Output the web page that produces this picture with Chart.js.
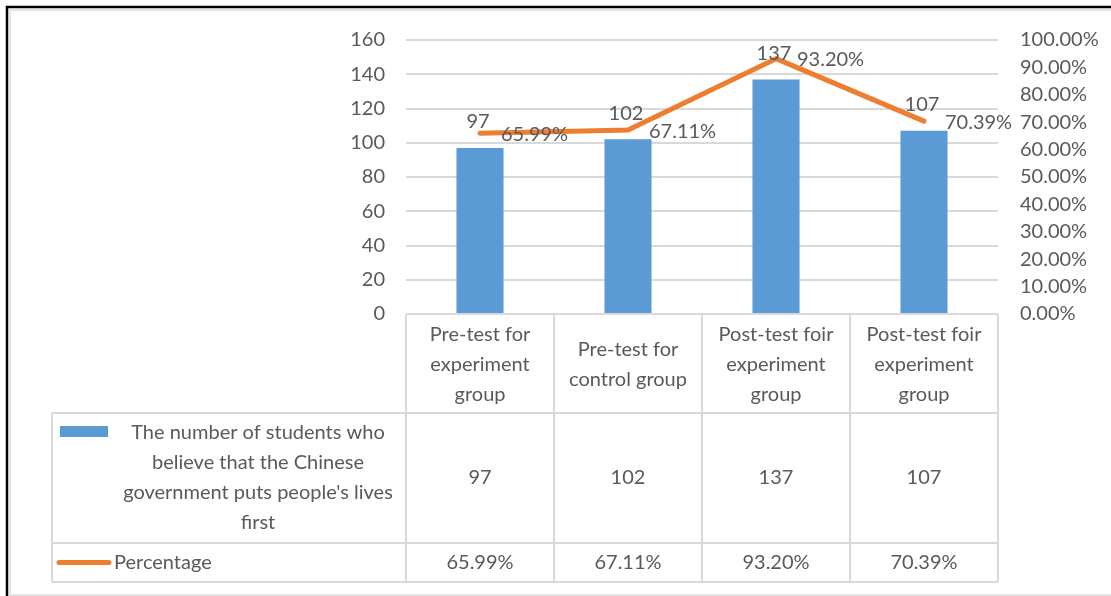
<!DOCTYPE html>
<html>
<head>
<meta charset="utf-8">
<script src="https://cdn.jsdelivr.net/npm/chart.js@4.4.1/dist/chart.umd.min.js"></script>
<style>
  html, body { margin: 0; padding: 0; background: #fff; }
  #wrap { position: relative; width: 1111px; height: 596px; }
</style>
</head>
<body>
<div id="wrap"><canvas id="myChart" width="1111" height="596"></canvas></div>
<script>
// groups along the x axis (multi-line labels for the data table header)
var groups = [
    ['Pre-test for', 'experiment', 'group'],
    ['Pre-test for', 'control group'],
    ['Post-test foir', 'experiment', 'group'],
    ['Post-test foir', 'experiment', 'group']
];
var students = [97, 102, 137, 107];
var percentage = [65.99, 67.11, 93.20, 70.39];
var studentsName = ['The number of students who', 'believe that the Chinese', "government puts people's lives", 'first'];
var percentageName = 'Percentage';

var blue = '#5B9BD5';
var orange = '#ED7D31';
var textColor = '#595959';
var lineColor = '#d9d9d9';
var fontFamily = 'Lato, "Open Sans", sans-serif';
var fontSize = 20;

function pct(v) {
    return v.toFixed(2) + '%';
}

// frame around the chart
var framePlugin = {
    id: 'frame',
    beforeDraw: function(chart) {
        var c = chart.ctx;
        c.save();
        c.fillStyle = '#fff';
        c.fillRect(0, 0, chart.width, chart.height);
        c.strokeStyle = '#e3e3e3';
        c.lineWidth = 2;
        c.beginPath();
        c.moveTo(10, chart.height);
        c.lineTo(10, 10);
        c.lineTo(chart.width, 10);
        c.moveTo(10, 595);
        c.lineTo(chart.width, 595);
        c.stroke();
        c.strokeStyle = '#000';
        c.lineWidth = 2.5;
        c.beginPath();
        c.moveTo(7, chart.height);
        c.lineTo(7, 7);
        c.lineTo(chart.width, 7);
        c.stroke();
        c.restore();
    }
};

// value labels above bars and right of line points
var labelPlugin = {
    id: 'valueLabels',
    afterDatasetsDraw: function(chart) {
        var c = chart.ctx;
        c.save();
        c.fillStyle = textColor;
        c.font = fontSize + 'px ' + fontFamily;
        c.textBaseline = 'middle';
        chart.data.datasets.forEach(function(ds, i) {
            var meta = chart.getDatasetMeta(i);
            meta.data.forEach(function(el, j) {
                if (ds.type === 'bar') {
                    c.textAlign = 'center';
                    c.fillText(String(ds.data[j]), el.x - 2, el.y - 26);
                } else {
                    c.textAlign = 'left';
                    c.fillText(pct(ds.data[j]), el.x + 21, el.y + 1);
                }
            });
        });
        c.restore();
    }
};

// data table under the plot
var tablePlugin = {
    id: 'dataTable',
    afterDraw: function(chart) {
        var c = chart.ctx;
        var area = chart.chartArea;
        var n = groups.length;
        var colW = (area.right - area.left) / n;
        var tableLeft = 52;
        var rows = [area.bottom, 413, 543, 582];
        var lineH = 30;

        c.save();
        c.strokeStyle = lineColor;
        c.lineWidth = 2;
        c.beginPath();
        // header row: only the category cells have borders
        c.moveTo(area.left, rows[0]);
        c.lineTo(area.right, rows[0]);
        for (var k = 0; k <= n; k++) {
            var x = area.left + k * colW;
            c.moveTo(x, rows[0]);
            c.lineTo(x, rows[3]);
        }
        c.moveTo(tableLeft, rows[1]);
        c.lineTo(tableLeft, rows[3]);
        for (var r = 1; r < rows.length; r++) {
            c.moveTo(tableLeft, rows[r]);
            c.lineTo(area.right, rows[r]);
        }
        c.stroke();

        c.font = fontSize + 'px ' + fontFamily;
        c.textAlign = 'center';
        c.textBaseline = 'middle';

        function block(lines, cx, cy) {
            var y0 = cy - (lines.length - 1) * lineH / 2;
            lines.forEach(function(t, i) {
                c.fillText(t, cx, y0 + i * lineH);
            });
        }

        var mid1 = (rows[0] + rows[1]) / 2;
        var mid2 = (rows[1] + rows[2]) / 2;
        var mid3 = (rows[2] + rows[3]) / 2;

        // series keys
        c.fillStyle = blue;
        c.fillRect(60, 426, 48, 11);
        c.strokeStyle = orange;
        c.lineWidth = 5;
        c.lineCap = 'round';
        c.beginPath();
        c.moveTo(59, mid3);
        c.lineTo(109, mid3);
        c.stroke();

        c.fillStyle = textColor;
        block(studentsName, 258, mid2);
        for (var i = 0; i < n; i++) {
            var cx = area.left + (i + 0.5) * colW;
            block(groups[i], cx, mid1 + 1);
            c.fillText(String(students[i]), cx, mid2);
            c.fillText(pct(percentage[i]), cx, mid3);
        }
        c.textAlign = 'left';
        c.fillText(percentageName, 114, mid3);
        c.restore();
    }
};

var ctx = document.getElementById('myChart');
var myChart = new Chart(ctx, {
    data: {
        labels: groups,
        datasets: [{
            type: 'line',
            label: percentageName,
            data: percentage,
            yAxisID: 'y1',
            borderColor: orange,
            borderWidth: 5,
            borderCapStyle: 'round',
            borderJoinStyle: 'round',
            pointRadius: 0,
            tension: 0,
            order: 0
        }, {
            type: 'bar',
            label: studentsName.join(' '),
            data: students,
            yAxisID: 'y',
            backgroundColor: blue,
            categoryPercentage: 1,
            barPercentage: 0.318,
            order: 1
        }]
    },
    options: {
        responsive: false,
        animation: false,
        layout: { padding: { top: 40, bottom: 282, left: 0, right: 0 } },
        plugins: {
            legend: { display: false },
            tooltip: { enabled: false }
        },
        scales: {
            x: { display: false },
            y: {
                position: 'left',
                min: 0,
                max: 160,
                ticks: {
                    stepSize: 20,
                    color: textColor,
                    padding: 21,
                    font: { family: fontFamily, size: fontSize }
                },
                grid: { color: lineColor, lineWidth: 2, drawTicks: false },
                border: { display: false },
                afterFit: function(s) { s.width = 406; }
            },
            y1: {
                position: 'right',
                min: 0,
                max: 100,
                ticks: {
                    stepSize: 10,
                    color: textColor,
                    padding: 22,
                    font: { family: fontFamily, size: fontSize },
                    callback: function(v) { return pct(v); }
                },
                grid: { drawOnChartArea: false, drawTicks: false },
                border: { display: false },
                afterFit: function(s) { s.width = 113; }
            }
        }
    },
    plugins: [framePlugin, labelPlugin, tablePlugin]
});
</script>
</body>
</html>
